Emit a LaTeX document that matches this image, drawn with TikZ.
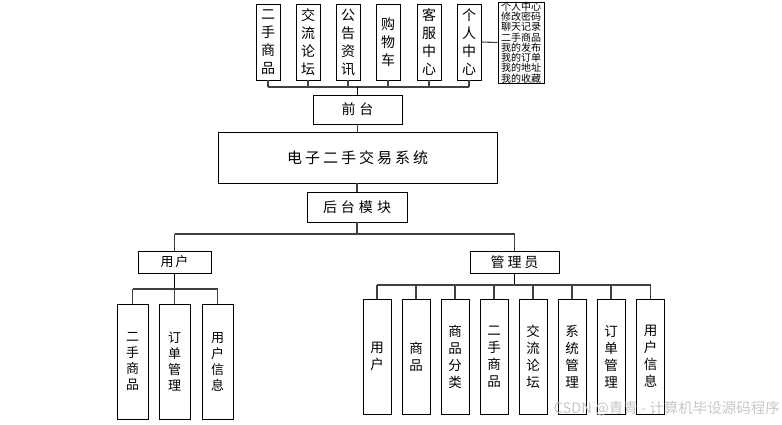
\documentclass[tikz,border=0pt]{standalone}
\usepackage{fontspec}
\setmainfont{Noto Sans CJK SC}
\newfontfamily\cjk{Noto Sans CJK SC}
\begin{document}
\begin{tikzpicture}[x=1pt,y=-1pt,
  box/.style={draw=black, line width=0.9pt, inner sep=0pt, align=center, fill=white},
  vtop/.style={box, minimum width=24pt, minimum height=76pt, font=\cjk\fontsize{14}{18}\selectfont},
  hbox/.style={box, font=\cjk\fontsize{14}{16}\selectfont},
  vuser/.style={box, minimum width=31pt, minimum height=115pt, font=\cjk\fontsize{13}{16}\selectfont},
  vadm/.style={box, minimum width=28pt, minimum height=115pt, font=\cjk\fontsize{13.5}{17}\selectfont},
  conn/.style={draw=black!75, line width=1.1pt},
  stem/.style={draw=black, line width=1.4pt}]
\useasboundingbox (0,0) rectangle (782,425);
% top row
\node[vtop] (t1) at (268,42) {二\\手\\商\\品};
\node[vtop] (t2) at (308,42) {交\\流\\论\\坛};
\node[vtop] (t3) at (348,42) {公\\告\\资\\讯};
\node[vtop] (t4) at (388,42) {购\\物\\车};
\node[vtop] (t5) at (429,42) {客\\服\\中\\心};
\node[vtop] (t6) at (469,42) {个\\人\\中\\心};
\node[box, minimum width=46pt, minimum height=77pt, font=\cjk\fontsize{10}{9.1}\selectfont] (pc) at (521,42.5)
  {个人中心\\修改密码\\聊天记录\\二手商品\\我的发布\\我的订单\\我的地址\\我的收藏};
\draw[conn] (t6.east) -- (pc.west);
% front end
\node[hbox, minimum width=89pt, minimum height=29pt] (qt) at (357.5,109.5) {前\hspace{4pt}台};
\coordinate (bus1) at (357.5,87);
\foreach \i in {1,...,6} {\draw[conn] (t\i.south) -- (t\i.south |- bus1);}
\draw[conn] (t1.south |- bus1) -- (t6.south |- bus1);
\draw[stem] (bus1) -- (qt.north);
% system
\node[box, minimum width=279pt, minimum height=51pt, font=\cjk\fontsize{15}{16}\selectfont] (sys) at (357.5,157.5)
  {电\hspace{3pt}子\hspace{3pt}二\hspace{3pt}手\hspace{3pt}交\hspace{3pt}易\hspace{3pt}系\hspace{3pt}统};
\draw[conn] (qt.south) -- (sys.north);
\node[hbox, minimum width=100pt, minimum height=30pt] (ht) at (357,207) {后\hspace{4pt}台\hspace{4pt}模\hspace{4pt}块};
\draw[conn] (sys.south) -- (ht.south |- sys.south);
\draw[conn] (ht.north |- sys.south) -- (ht.north);
% second level
\node[hbox, minimum width=73pt, minimum height=22pt, font=\cjk\fontsize{13}{14}\selectfont] (us) at (174.5,262) {用\hspace{2pt}户};
\node[hbox, minimum width=89pt, minimum height=22pt] (ad) at (514.5,262) {管\hspace{3pt}理\hspace{3pt}员};
\coordinate (bus2) at (357,234);
\draw[conn] (ht.south) -- (bus2);
\draw[conn] (us.north |- bus2) -- (ad.north |- bus2);
\draw[conn] (us.north |- bus2) -- (us.north);
\draw[conn] (ad.north |- bus2) -- (ad.north);
% user children
\node[vuser] (u1) at (132.5,361.5) {二\\手\\商\\品};
\node[vuser] (u2) at (174.5,361.5) {订\\单\\管\\理};
\node[vuser] (u3) at (217.5,361.5) {用\\户\\信\\息};
\coordinate (bus3) at (174.5,289);
\draw[stem] (us.south) -- (bus3);
\draw[conn] (u1.north |- bus3) -- (u3.north |- bus3);
\foreach \i in {1,2,3} {\draw[conn] (u\i.north |- bus3) -- (u\i.north);}
% admin children
\node[vadm] (a1) at (377,356.5) {用\\户};
\node[vadm] (a2) at (416,356.5) {商\\品};
\node[vadm] (a3) at (455,356.5) {商\\品\\分\\类};
\node[vadm] (a4) at (494,356.5) {二\\手\\商\\品};
\node[vadm] (a5) at (533,356.5) {交\\流\\论\\坛};
\node[vadm] (a6) at (572,356.5) {系\\统\\管\\理};
\node[vadm] (a7) at (611,356.5) {订\\单\\管\\理};
\node[vadm] (a8) at (650.5,356.5) {用\\户\\信\\息};
\coordinate (bus4) at (514.5,285);
\draw[stem] (ad.south) -- (bus4);
\draw[conn] (a1.north |- bus4) -- (a8.north |- bus4);
\foreach \i in {1,...,8} {\draw[conn] (a\i.north |- bus4) -- (a\i.north);}
% watermark
\node[anchor=east, text=black!22, font=\cjk\fontsize{14.5}{15}\selectfont, inner sep=0pt] (wm) at (780,409) {CSDN @青青 - 计算机毕设源码程序};
\end{tikzpicture}
\end{document}
